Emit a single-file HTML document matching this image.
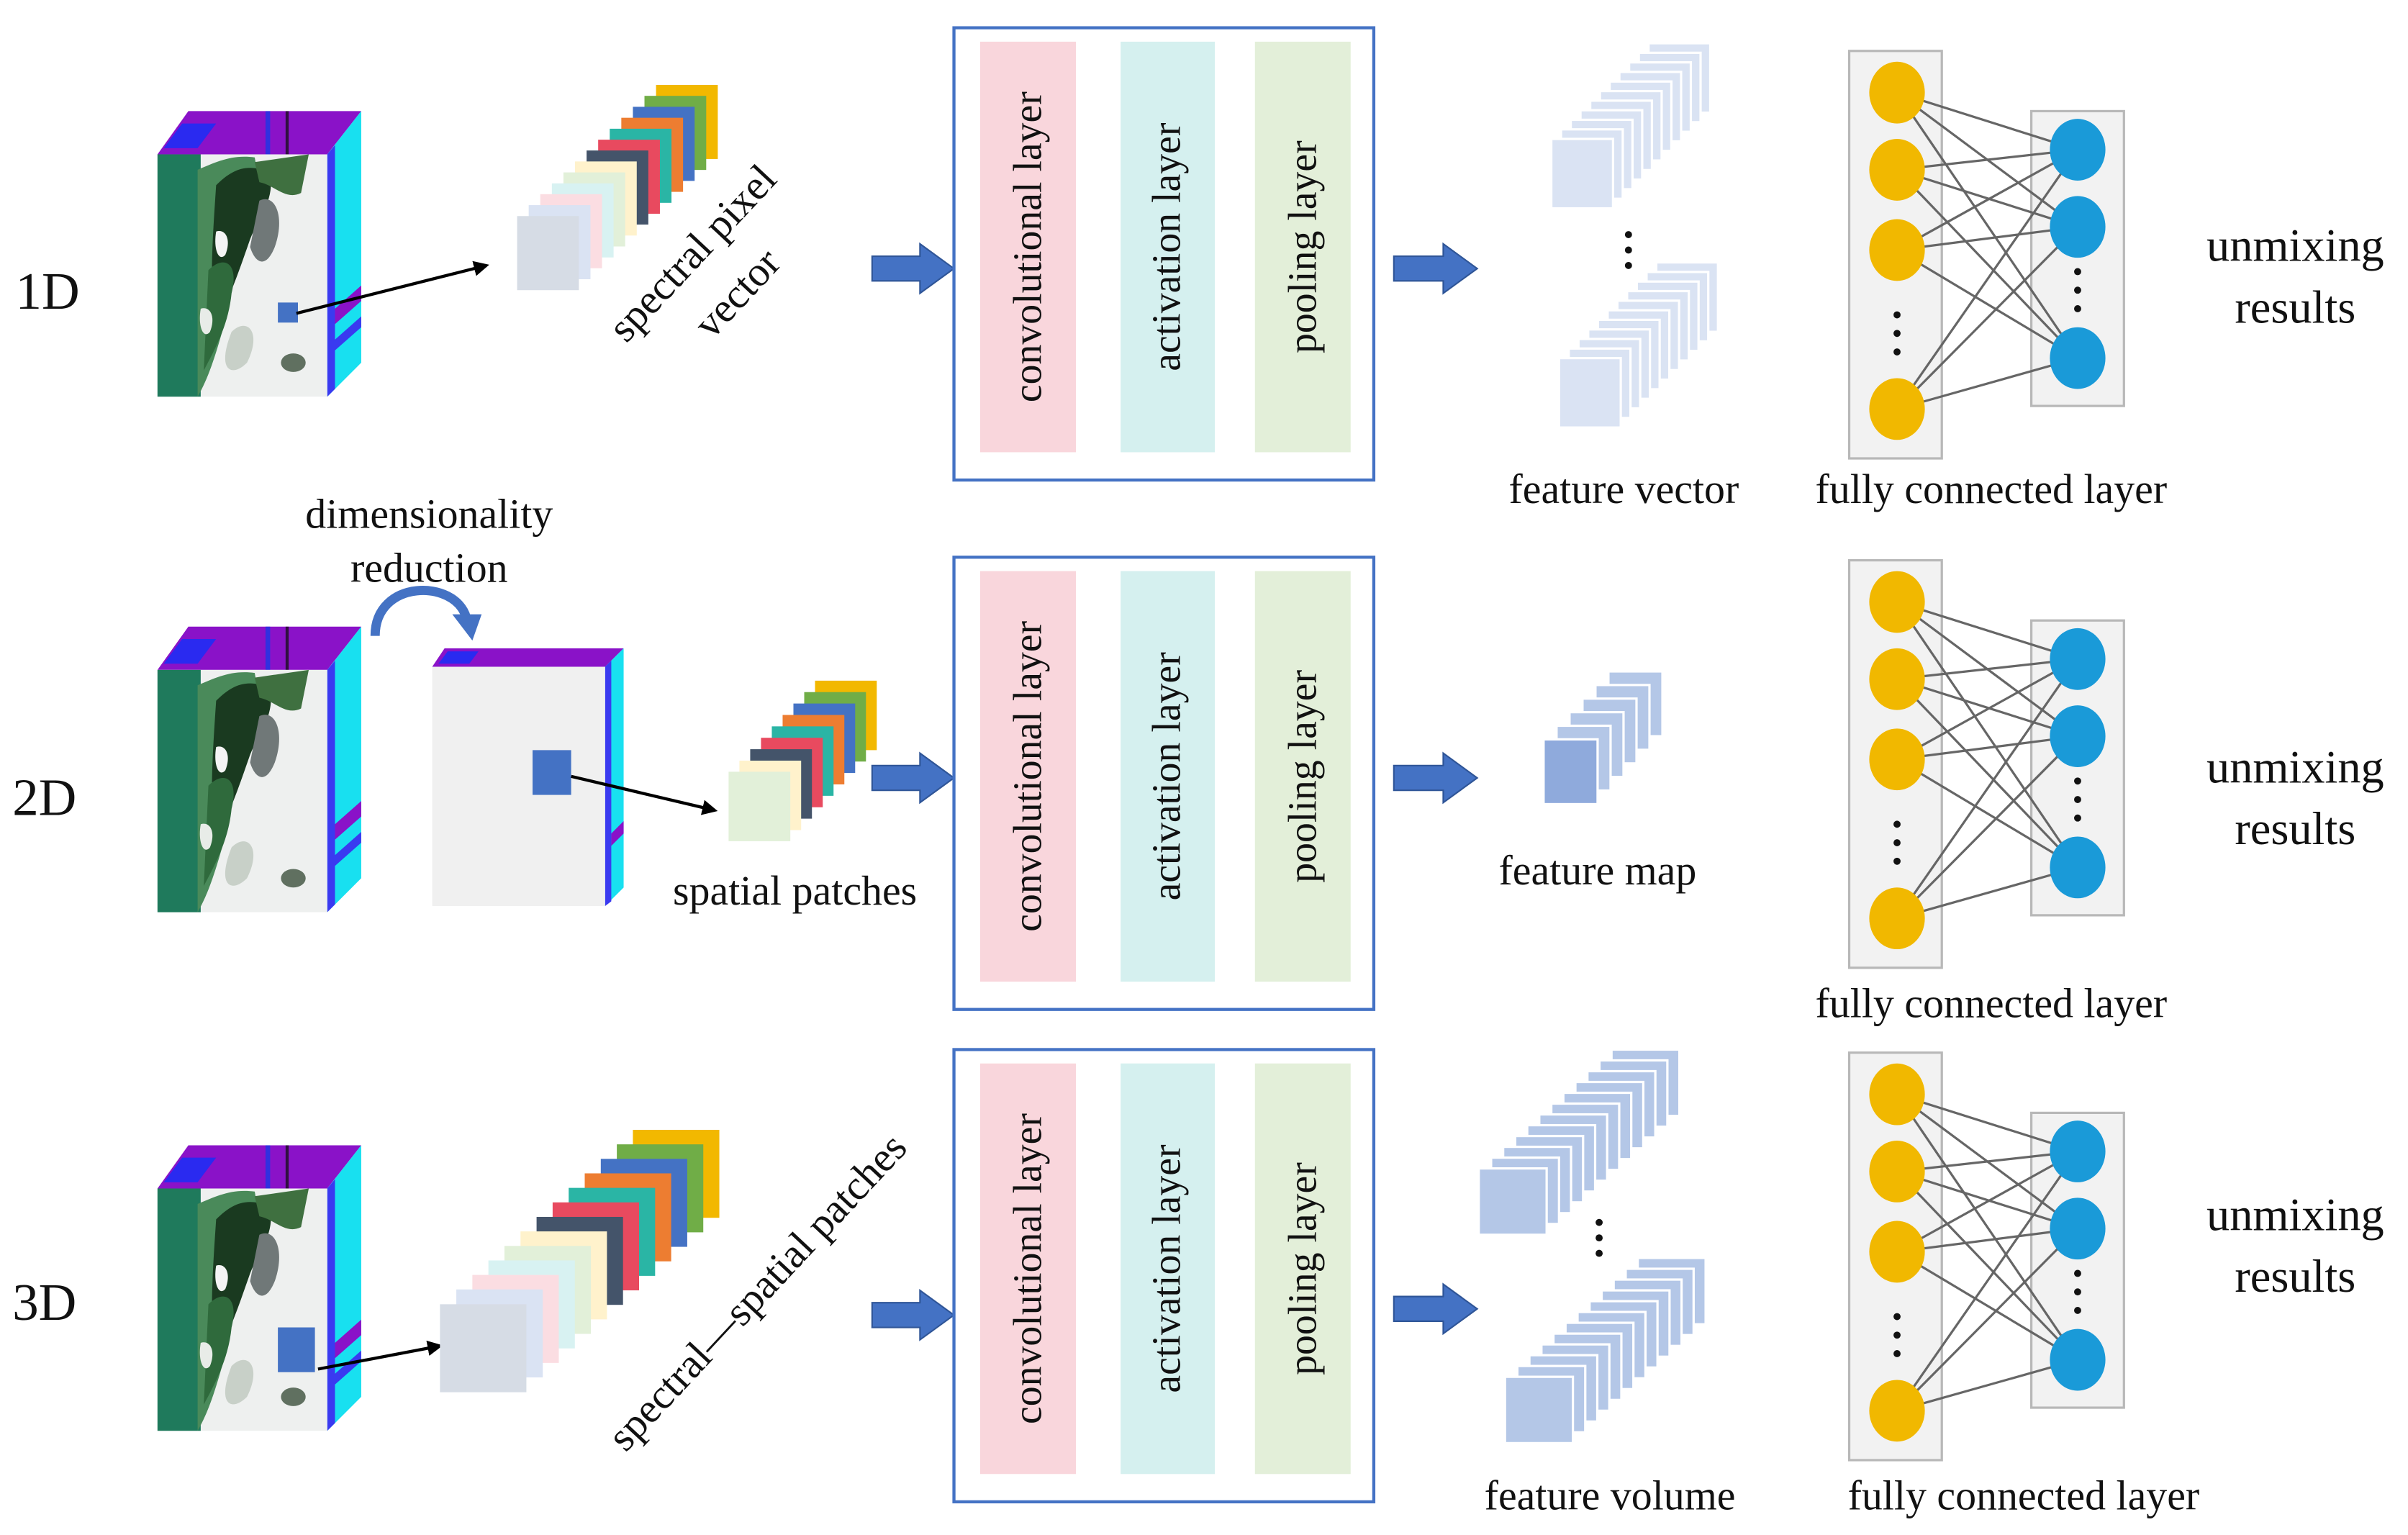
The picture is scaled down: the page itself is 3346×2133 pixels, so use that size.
<!DOCTYPE html>
<html><head><meta charset="utf-8"><style>
html,body{margin:0;padding:0;background:#fff;}
svg{display:block;}
text{font-family:"Liberation Serif",serif;fill:#111;}
</style></head><body>
<svg width="3346" height="2133" viewBox="0 0 1560 994.5" xmlns="http://www.w3.org/2000/svg">
<defs>
<g id="cube">
  <polygon points="102,100 122,72 234,72 212,100" fill="#8a12c8"/>
  <polygon points="106,96 118,80 140,80 128,96" fill="#2a2af0"/>
  <rect x="172" y="72" width="3" height="28" fill="#3030e0"/>
  <rect x="185" y="72" width="2" height="28" fill="#301040"/>
  <polygon points="212,100 234,72 234,235 212,257" fill="#18e0f0"/>
  <polygon points="212,100 217,94 217,252 212,257" fill="#3a3af0"/>
  <polygon points="217,200 234,185 234,195 217,210" fill="#8a12c8"/>
  <polygon points="217,220 234,205 234,212 217,227" fill="#3a3af0"/>
  <rect x="102" y="100" width="110" height="157" fill="#eef0ef"/>
  <rect x="102" y="100" width="28" height="157" fill="#1f7a5c"/>
  <path d="M128,110 C140,105 150,100 165,102 L170,130 C160,150 150,170 148,200 C140,230 135,245 128,257 Z" fill="#4a8a5a"/>
  <path d="M140,120 C150,110 160,105 175,112 C178,130 168,140 162,155 C155,175 150,190 140,210 C135,190 138,150 140,120 Z" fill="#1a3a20"/>
  <path d="M135,175 C145,165 155,170 150,190 C148,210 140,225 132,240 Z" fill="#2f6a3c"/>
  <path d="M165,105 L200,100 L195,125 C185,130 178,120 168,118 Z" fill="#3f7040"/>
  <path d="M168,130 C178,125 185,140 178,160 C172,175 165,170 162,160 Z" fill="#707878"/>
  <path d="M140,150 C146,148 150,155 146,165 C142,170 138,162 140,150 Z" fill="#f4f4f4"/>
  <path d="M130,200 C136,198 140,205 136,215 C132,220 128,212 130,200 Z" fill="#e8ece8"/>
  <path d="M150,215 C160,205 170,215 160,235 C150,245 140,240 150,215 Z" fill="#c8d0c8"/>
  <ellipse cx="190" cy="235" rx="8" ry="6" fill="#607060"/>
</g>
<g id="fvA" fill="#dae3f3" stroke="#fff" stroke-width="1.5">
  <rect x="1068" y="28" width="40" height="45"/><rect x="1061.7" y="34.2" width="40" height="45"/>
  <rect x="1055.4" y="40.4" width="40" height="45"/><rect x="1049.1" y="46.6" width="40" height="45"/>
  <rect x="1042.8" y="52.8" width="40" height="45"/><rect x="1036.5" y="59" width="40" height="45"/>
  <rect x="1030.2" y="65.2" width="40" height="45"/><rect x="1023.9" y="71.4" width="40" height="45"/>
  <rect x="1017.6" y="77.6" width="40" height="45"/><rect x="1011.3" y="83.8" width="40" height="45"/>
  <rect x="1005" y="90" width="40" height="45"/>
</g>
<g id="fvol" fill="#b4c7e7" stroke="#fff" stroke-width="1.5">
  <rect x="1044" y="680" width="44" height="43"/><rect x="1036.2" y="687" width="44" height="43"/>
  <rect x="1028.4" y="694" width="44" height="43"/><rect x="1020.6" y="701" width="44" height="43"/>
  <rect x="1012.8" y="708" width="44" height="43"/><rect x="1005" y="715" width="44" height="43"/>
  <rect x="997.2" y="722" width="44" height="43"/><rect x="989.4" y="729" width="44" height="43"/>
  <rect x="981.6" y="736" width="44" height="43"/><rect x="973.8" y="743" width="44" height="43"/>
  <rect x="966" y="750" width="44" height="43"/><rect x="958" y="757" width="44" height="43"/>
</g>
<g id="fc">
  <rect x="1198" y="33" width="60" height="264" fill="#f2f2f2" stroke="#b8b8b8" stroke-width="1.5"/>
  <rect x="1316" y="72" width="60" height="191" fill="#f2f2f2" stroke="#b8b8b8" stroke-width="1.5"/>
  <g stroke="#666" stroke-width="1.5">
    <line x1="1229" y1="60" x2="1346" y2="97"/><line x1="1229" y1="60" x2="1346" y2="147"/><line x1="1229" y1="60" x2="1346" y2="232"/>
    <line x1="1229" y1="110" x2="1346" y2="97"/><line x1="1229" y1="110" x2="1346" y2="147"/><line x1="1229" y1="110" x2="1346" y2="232"/>
    <line x1="1229" y1="162" x2="1346" y2="97"/><line x1="1229" y1="162" x2="1346" y2="147"/><line x1="1229" y1="162" x2="1346" y2="232"/>
    <line x1="1229" y1="265" x2="1346" y2="97"/><line x1="1229" y1="265" x2="1346" y2="147"/><line x1="1229" y1="265" x2="1346" y2="232"/>
  </g>
  <g fill="#f1b800">
    <ellipse cx="1229" cy="60" rx="18" ry="20"/><ellipse cx="1229" cy="110" rx="18" ry="20"/>
    <ellipse cx="1229" cy="162" rx="18" ry="20"/><ellipse cx="1229" cy="265" rx="18" ry="20"/>
  </g>
  <g fill="#1a9ad8">
    <ellipse cx="1346" cy="97" rx="18" ry="20"/><ellipse cx="1346" cy="147" rx="18" ry="20"/><ellipse cx="1346" cy="232" rx="18" ry="20"/>
  </g>
  <g fill="#111">
    <circle cx="1229" cy="204" r="2.3"/><circle cx="1229" cy="216" r="2.3"/><circle cx="1229" cy="228" r="2.3"/>
    <circle cx="1346" cy="176" r="2.3"/><circle cx="1346" cy="188" r="2.3"/><circle cx="1346" cy="200" r="2.3"/>
  </g>
</g>
<g id="cnn">
  <rect x="618" y="18" width="272" height="293" fill="#fff" stroke="#4472c4" stroke-width="2"/>
  <rect x="635" y="27" width="62" height="266" fill="#f9d6dc"/>
  <rect x="726" y="27" width="61" height="266" fill="#d5f0ef"/>
  <rect x="813" y="27" width="62" height="266" fill="#e3efd9"/>
  <text transform="translate(666,160) rotate(-90)" text-anchor="middle" dominant-baseline="central" font-size="26">convolutional layer</text>
  <text transform="translate(756,160) rotate(-90)" text-anchor="middle" dominant-baseline="central" font-size="26">activation layer</text>
  <text transform="translate(844,160) rotate(-90)" text-anchor="middle" dominant-baseline="central" font-size="26">pooling layer</text>
</g>
<marker id="ah" markerWidth="10" markerHeight="10" refX="8" refY="5" orient="auto" markerUnits="userSpaceOnUse"><path d="M0,0 L10,5 L0,10 Z" fill="#000"/></marker>
</defs>

<text x="10" y="200" font-size="34">1D</text>
<text x="8" y="528" font-size="34">2D</text>
<text x="8" y="855" font-size="34">3D</text>

<use href="#cube"/>
<use href="#cube" transform="translate(0,334)"/>
<use href="#cube" transform="translate(0,670)"/>

<rect x="180" y="196" width="13" height="13" fill="#4472c4"/>
<line x1="192" y1="203" x2="315" y2="172" stroke="#000" stroke-width="2" marker-end="url(#ah)"/>
<g>
<rect x="425" y="55" width="40" height="48" fill="#f2b800"/>
<rect x="417.5" y="62.1" width="40" height="48" fill="#70ad47"/>
<rect x="410" y="69.2" width="40" height="48" fill="#4472c4"/>
<rect x="402.5" y="76.3" width="40" height="48" fill="#ed7d31"/>
<rect x="395" y="83.4" width="40" height="48" fill="#2ab5a5"/>
<rect x="387.5" y="90.5" width="40" height="48" fill="#e84a5f"/>
<rect x="380" y="97.5" width="40" height="48" fill="#44546a"/>
<rect x="372.5" y="104.6" width="40" height="48" fill="#fff2cc"/>
<rect x="365" y="111.7" width="40" height="48" fill="#e2f0d9"/>
<rect x="357.5" y="118.8" width="40" height="48" fill="#d8f2f2"/>
<rect x="350" y="125.8" width="40" height="48" fill="#fbdde2"/>
<rect x="342.5" y="132.9" width="40" height="48" fill="#dae3f3"/>
<rect x="335" y="140" width="40" height="48" fill="#d6dce5"/>
</g>
<text transform="translate(455,170) rotate(-47)" text-anchor="middle" font-size="27">spectral pixel</text>
<text transform="translate(484,196) rotate(-47)" text-anchor="middle" font-size="27">vector</text>

<text x="278" y="342" text-anchor="middle" font-size="27">dimensionality</text>
<text x="278" y="377" text-anchor="middle" font-size="27">reduction</text>
<path d="M243,412 C243,375 295,375 302,400" fill="none" stroke="#4472c4" stroke-width="6"/>
<polygon points="293,398 312,398 306,415" fill="#4472c4"/>
<polygon points="280,432 288,420 404,420 392,432" fill="#8a12c8"/>
<polygon points="284,430 290,422 310,422 304,430" fill="#2a2af0"/>
<polygon points="392,432 404,420 404,575 392,587" fill="#18e0f0"/>
<polygon points="392,432 396,428 396,584 392,587" fill="#3a3af0"/>
<polygon points="396,540 404,532 404,540 396,548" fill="#8a12c8"/>
<rect x="280" y="432" width="112" height="155" fill="#f0f0f0"/>
<rect x="345" y="486" width="25" height="29" fill="#4472c4"/>
<line x1="370" y1="503" x2="463" y2="525" stroke="#000" stroke-width="2" marker-end="url(#ah)"/>
<g>
<rect x="528" y="441" width="40" height="45" fill="#f2b800"/>
<rect x="521" y="448.4" width="40" height="45" fill="#70ad47"/>
<rect x="514" y="455.8" width="40" height="45" fill="#4472c4"/>
<rect x="507" y="463.2" width="40" height="45" fill="#ed7d31"/>
<rect x="500" y="470.6" width="40" height="45" fill="#2ab5a5"/>
<rect x="493" y="478" width="40" height="45" fill="#e84a5f"/>
<rect x="486" y="485.4" width="40" height="45" fill="#44546a"/>
<rect x="479" y="492.8" width="40" height="45" fill="#fff2cc"/>
<rect x="472" y="500" width="40" height="45" fill="#e2f0d9"/>
</g>
<text x="515" y="586" text-anchor="middle" font-size="27">spatial patches</text>

<rect x="180" y="860" width="24" height="29" fill="#4472c4"/>
<line x1="206" y1="887" x2="285" y2="872" stroke="#000" stroke-width="2" marker-end="url(#ah)"/>
<g>
<rect x="410" y="732" width="56" height="57" fill="#f2b800"/>
<rect x="399.6" y="741.4" width="56" height="57" fill="#70ad47"/>
<rect x="389.2" y="750.8" width="56" height="57" fill="#4472c4"/>
<rect x="378.8" y="760.2" width="56" height="57" fill="#ed7d31"/>
<rect x="368.4" y="769.6" width="56" height="57" fill="#2ab5a5"/>
<rect x="358" y="779" width="56" height="57" fill="#e84a5f"/>
<rect x="347.6" y="788.4" width="56" height="57" fill="#44546a"/>
<rect x="337.2" y="797.8" width="56" height="57" fill="#fff2cc"/>
<rect x="326.8" y="807.2" width="56" height="57" fill="#e2f0d9"/>
<rect x="316.4" y="816.6" width="56" height="57" fill="#d8f2f2"/>
<rect x="306" y="826" width="56" height="57" fill="#fbdde2"/>
<rect x="295.6" y="835.4" width="56" height="57" fill="#dae3f3"/>
<rect x="285" y="845" width="56" height="57" fill="#d6dce5"/>
</g>
<text transform="translate(497,843) rotate(-47)" text-anchor="middle" font-size="27">spectral—spatial patches</text>

<g fill="#4472c4" stroke="#2f5597" stroke-width="1">
<path d="M565,166 H596 V158 L618,174 L596,190 V182 H565 Z"/>
<path d="M565,496 H596 V488 L618,504 L596,520 V512 H565 Z"/>
<path d="M565,844 H596 V836 L618,852 L596,868 V860 H565 Z"/>
<path d="M903,166 H935 V158 L957,174 L935,190 V182 H903 Z"/>
<path d="M903,496 H935 V488 L957,504 L935,520 V512 H903 Z"/>
<path d="M903,840 H935 V832 L957,848 L935,864 V856 H903 Z"/>
</g>

<use href="#cnn"/>
<use href="#cnn" transform="translate(0,343)"/>
<use href="#cnn" transform="translate(0,662)"/>

<use href="#fvA"/>
<use href="#fvA" transform="translate(5,142)"/>
<g fill="#111"><circle cx="1055" cy="152" r="2.3"/><circle cx="1055" cy="162" r="2.3"/><circle cx="1055" cy="172" r="2.3"/></g>
<text x="1052" y="326" text-anchor="middle" font-size="27">feature vector</text>

<g stroke="#fff" stroke-width="1.5" fill="#b4c7e7">
<rect x="1042" y="435" width="35" height="42"/><rect x="1033.6" y="443.8" width="35" height="42"/>
<rect x="1025.2" y="452.6" width="35" height="42"/><rect x="1016.8" y="461.4" width="35" height="42"/>
<rect x="1008.4" y="470.2" width="35" height="42"/><rect x="1000" y="479" width="35" height="42" fill="#8faadc"/>
</g>
<text x="1035" y="573" text-anchor="middle" font-size="27">feature map</text>

<use href="#fvol"/>
<use href="#fvol" transform="translate(17,135)"/>
<g fill="#111"><circle cx="1036" cy="792" r="2.3"/><circle cx="1036" cy="802" r="2.3"/><circle cx="1036" cy="812" r="2.3"/></g>
<text x="1043" y="978" text-anchor="middle" font-size="27">feature volume</text>

<use href="#fc"/>
<use href="#fc" transform="translate(0,330)"/>
<use href="#fc" transform="translate(0,649)"/>
<text x="1290" y="326" text-anchor="middle" font-size="27">fully connected layer</text>
<text x="1290" y="659" text-anchor="middle" font-size="27">fully connected layer</text>
<text x="1311" y="978" text-anchor="middle" font-size="27">fully connected layer</text>

<g font-size="30" text-anchor="middle">
<text x="1487" y="169">unmixing</text><text x="1487" y="209">results</text>
<text x="1487" y="507">unmixing</text><text x="1487" y="547">results</text>
<text x="1487" y="797">unmixing</text><text x="1487" y="837">results</text>
</g>
</svg>
</body></html>
